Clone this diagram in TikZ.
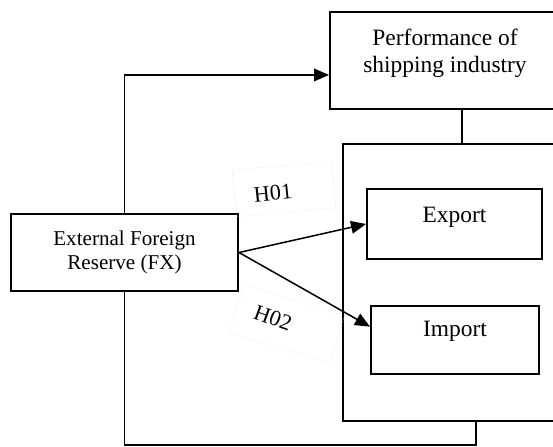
\documentclass[tikz,border=0pt]{standalone}
\usepackage{fontspec}
\setmainfont{Liberation Serif}
\usetikzlibrary{arrows.meta, positioning, calc}
\tikzstyle{block} = [rectangle, draw, line width=1.7pt, text centered, align=center, fill=white]
\tikzstyle{group} = [rectangle, draw, line width=1.7pt, fill=white]
\tikzstyle{frame} = [rectangle, draw=black!15, densely dotted, minimum width=3cm, minimum height=1.4cm]
\tikzstyle{hyp} = [inner sep=0pt, font=\fontsize{19}{22}\selectfont]
\tikzstyle{link} = [line width=1.3pt, black]
\tikzstyle{effect} = [line width=1.3pt, -{Triangle[length=0.45cm, width=0.38cm]}, black]

\begin{document}
\begin{tikzpicture}[x=0.03cm, y=-0.03cm]
	\useasboundingbox (0,0) rectangle (553,447);
	\clip (0,0) rectangle (553,447);

	% Boxes
	\node (fx) [block, minimum width=6.81cm, minimum height=2.31cm, font=\fontsize{18}{20.7}\selectfont] at (124.5,252.5) {External Foreign\\Reserve (FX)};
	\node (perf) [block, minimum width=6.9cm, minimum height=2.91cm, label={[align=center, font=\fontsize{20}{23}\selectfont, yshift=0.21cm]center:Performance of\\shipping industry}] at (445,60.5) {};
	\node (group) [group, minimum width=6.87cm, minimum height=8.31cm] at (457.5,282.5) {};
	\node (export) [block, minimum width=5.25cm, minimum height=2.1cm, label={[font=\fontsize{20}{23}\selectfont, yshift=0.21cm]center:Export}] at (454.5,224) {};
	\node (import) [block, minimum width=5.04cm, minimum height=2.04cm, label={[font=\fontsize{20}{23}\selectfont, yshift=0.25cm]center:Import}] at (455,340) {};

	% Hypotheses
	\node (h01box) [frame, rotate=5] at (284,189) {};
	\node (h01) [hyp, rotate=6] at (273,193) {H01};
	\node (h02box) [frame, rotate=-17, minimum width=3.15cm, minimum height=1.5cm] at (287,324) {};
	\node (h02) [hyp, rotate=-20] at (273,318) {H02};

	% Anchors
	\coordinate (perfin) at ($(perf.north west)!0.646!(perf.south west)$);
	\coordinate (perfout) at ($(perf.south west)!0.574!(perf.south east)$);
	\coordinate (importin) at ($(import.north west)!0.31!(import.south west)$);
	\coordinate (groupout) at ($(group.south west)!0.58!(group.south east)$);
	\coordinate (floor) at (0,445);

	% Arrows
	\draw[effect] (fx.north) |- (perfin);
	\draw[effect] (fx.east) -- (export.west);
	\draw[effect] (fx.east) -- (importin);

	% Links
	\draw[link] (perfout) -- (perfout |- group.north);
	\draw[link] (fx.south) -- (fx.south |- floor) -| (groupout);

\end{tikzpicture}
\end{document}
